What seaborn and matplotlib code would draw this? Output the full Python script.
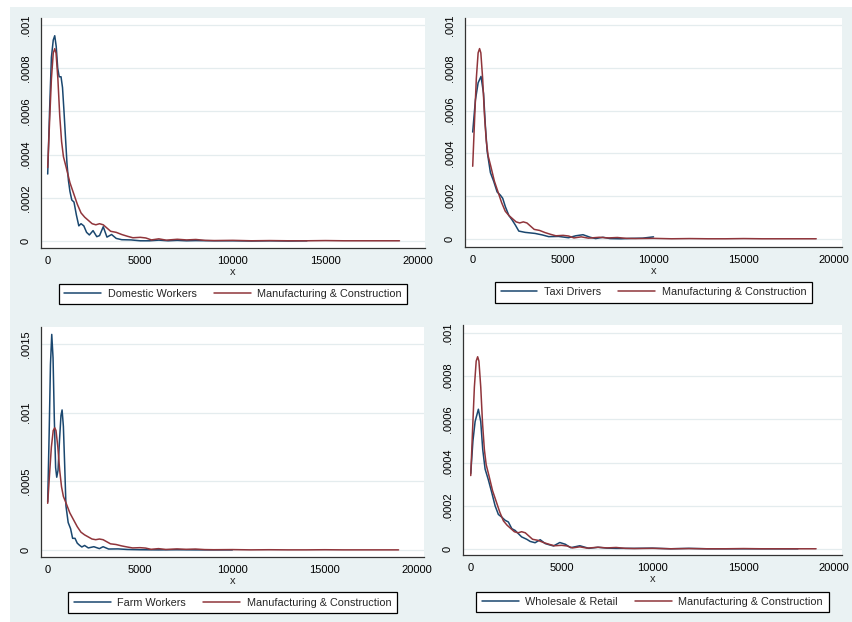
import numpy as np
import pandas as pd
import matplotlib.pyplot as plt
import seaborn as sns
from matplotlib.patches import Rectangle

# ---- data (kernel density estimates) ----
MFG = "Manufacturing & Construction"

mfg_x = [0, 100, 200, 300, 380, 450, 550, 650, 750, 850, 1000, 1200, 1400, 1600, 1800,
         2000, 2200, 2400, 2600, 2800, 3000, 3200, 3400, 3700, 4000, 4300, 4600, 5000,
         5300, 5600, 6000, 6400, 7000, 7500, 8000, 8500, 9000, 10000, 11000, 12000,
         13000, 14000, 15000, 16000, 17000, 18000, 19000]
mfg_y = [0.00034, 0.00055, 0.00075, 0.00087, 0.00089, 0.00087, 0.00075, 0.00058, 0.00046,
         0.00039, 0.00034, 0.00027, 0.00022, 0.00017, 0.00013, 0.00011, 0.000095, 0.00008,
         0.000075, 0.00008, 0.000075, 0.00006, 0.000045, 0.00004, 0.00003, 0.000022,
         0.000015, 0.000017, 0.000014, 0.000005, 0.00001, 0.000004, 0.000008, 0.000005,
         0.000007, 0.000003, 0.000002, 0.000003, 0.000001, 0.000002, 0.000001, 0.000001,
         0.000002, 0.000001, 0.000001, 0.000001, 0.000001]

domestic_x = [0, 100, 200, 300, 380, 460, 540, 620, 720, 800, 880, 960, 1040, 1120, 1200,
              1300, 1420, 1550, 1680, 1800, 1950, 2100, 2250, 2450, 2650, 2800, 3000, 3200,
              3450, 3700, 4000, 4500, 5000, 5500, 6000, 6500, 7000, 7500, 8000, 9000,
              10000, 11000, 12000, 13000, 14000]
domestic_y = [0.00031, 0.0006, 0.00085, 0.00093, 0.00095, 0.0009, 0.0008, 0.00076, 0.00076,
              0.00071, 0.0006, 0.00048, 0.00036, 0.00028, 0.00023, 0.00019, 0.00018, 0.00012,
              0.00007, 0.00008, 0.00007, 0.00004, 0.000028, 0.000048, 0.00002, 0.000025,
              0.000066, 0.000018, 0.00003, 0.000012, 0.000006, 0.000005, 0.000001, 0.000001,
              0.000004, 0.000001, 0.000003, 0.000001, 0.000002, 0.000001, 0.000001, 0.0,
              0.000001, 0.0, 0.000001]

taxi_x = [0, 150, 300, 460, 600, 700, 800, 980, 1160, 1350, 1530, 1660, 1810, 2000, 2180,
          2360, 2550, 2900, 3450, 3850, 4200, 4750, 5300, 5700, 6100, 6500, 6800, 7200,
          7600, 8200, 8800, 9400, 10000]
taxi_y = [0.0005, 0.00065, 0.00073, 0.00076, 0.00068, 0.00053, 0.00041, 0.00031, 0.00027,
          0.00022, 0.000205, 0.00019, 0.00015, 0.00011, 0.000089, 0.000065, 0.000037,
          0.000031, 0.000026, 0.000019, 0.000011, 0.000012, 0.000006, 0.000015, 0.00002,
          0.000008, 0.000002, 0.000008, 0.000002, 0.000001, 0.000003, 0.000004, 0.00001]

farm_x = [0, 80, 150, 220, 290, 360, 430, 490, 560, 640, 720, 780, 850, 920, 990, 1110,
          1240, 1350, 1480, 1600, 1720, 1850, 2000, 2200, 2500, 2800, 3000, 3300, 3800,
          4300, 5000, 6000, 7000, 8000, 9000, 10000]
farm_y = [0.00035, 0.00085, 0.00135, 0.00157, 0.0014, 0.00095, 0.0006, 0.00053, 0.00058,
          0.0008, 0.00098, 0.00102, 0.0009, 0.00062, 0.00032, 0.0002, 0.000155, 0.000085,
          0.000085, 0.00005, 0.000035, 0.000022, 0.000033, 0.000015, 0.000024, 0.00001,
          0.000024, 0.000007, 0.000008, 0.000004, 0.000002, 0.000001, 0.000002, 0.000001,
          0.000001, 0.000001]

retail_x = [0, 120, 240, 420, 550, 660, 790, 970, 1160, 1340, 1520, 1700, 1890, 2070, 2260,
            2440, 2620, 2800, 3080, 3270, 3540, 3820, 4100, 4300, 4550, 4900, 5200, 5500,
            6000, 6500, 7000, 7500, 8000, 9000, 10000, 11000, 12000, 13000, 14000, 15000,
            16000, 17000, 18000]
retail_y = [0.00035, 0.0005, 0.00059, 0.000647, 0.00059, 0.00046, 0.00037, 0.00032, 0.00026,
            0.0002, 0.00016, 0.000148, 0.000133, 0.000125, 0.000094, 0.000086, 0.000071,
            0.000056, 0.000045, 0.000035, 0.000029, 0.000043, 0.000025, 0.00002, 0.000014,
            0.00003, 0.000022, 0.000006, 0.000015, 0.000003, 0.000008, 0.000004, 0.000003,
            0.000003, 0.000004, 0.000001, 0.000003, 0.000001, 0.000001, 0.000001, 0.000001,
            0.000001, 0.000001]

x_ticks = [0, 5000, 10000, 15000, 20000]
y_ticks_small = [0, 0.0002, 0.0004, 0.0006, 0.0008, 0.001]
y_labels_small = ["0", ".0002", ".0004", ".0006", ".0008", ".001"]
y_ticks_farm = [0, 0.0005, 0.001, 0.0015]
y_labels_farm = ["0", ".0005", ".001", ".0015"]

NAVY = "#1A476F"
MAROON = "#90353B"
BG = "#EAF2F3"
GRID = "#E4ECEE"
FS = 8
LEG_FS = 7.8

sns.set_style("white")
plt.rcParams["font.family"] = ["Liberation Sans", "DejaVu Sans"]

W, H = 852, 622
fig = plt.figure(figsize=(W / 100, H / 100), dpi=100, facecolor="white")
fig.patches.append(Rectangle((10 / W, 0), (W - 10) / W, (H - 7) / H,
                             transform=fig.transFigure, facecolor=BG, edgecolor="none", zorder=-10))


def px_rect(left, top, right, bottom):
    return [left / W, 1 - bottom / H, (right - left) / W, (bottom - top) / H]


def draw_panel(rect, name, gx, gy, xlim, ylim, yticks, ylabels, legend_y):
    ax = fig.add_axes(rect)
    ax.set_facecolor("white")
    df = pd.concat([
        pd.DataFrame({"x": gx, "density": gy, "series": name}),
        pd.DataFrame({"x": mfg_x, "density": mfg_y, "series": MFG}),
    ])
    sns.lineplot(data=df, x="x", y="density", hue="series", hue_order=[name, MFG],
                 palette=[NAVY, MAROON], estimator=None, linewidth=1.1, legend=False, ax=ax)
    ax.set_xlim(*xlim)
    ax.set_ylim(*ylim)
    ax.set_xticks(x_ticks)
    ax.set_xticklabels([str(t) for t in x_ticks])
    ax.set_yticks(yticks)
    ax.set_yticklabels(ylabels, rotation=90, va="center")
    for y in yticks:
        ax.axhline(y, color=GRID, linewidth=0.9, zorder=0)
    ax.tick_params(axis="both", direction="out", length=4, width=0.8, color="#333333",
                   labelsize=FS, labelcolor="black")
    ax.tick_params(axis="y", pad=3.5)
    ax.tick_params(axis="x", pad=2)
    for side in ["top", "right"]:
        ax.spines[side].set_visible(False)
    for side in ["left", "bottom"]:
        ax.spines[side].set_color("#333333")
        ax.spines[side].set_linewidth(0.9)
    ax.set_xlabel("x", fontsize=FS, labelpad=0.5)
    ax.set_ylabel("")
    handles = ax.get_lines()[:2]
    leg = ax.legend(handles, [name, MFG], loc="center", bbox_to_anchor=(0.5, legend_y),
                    ncol=2, frameon=True, fancybox=False, framealpha=1, edgecolor="black",
                    fontsize=LEG_FS, handlelength=3.4, handletextpad=0.6, columnspacing=1.6,
                    borderpad=0.5)
    leg.get_frame().set_linewidth(0.9)
    return ax


draw_panel(px_rect(41, 18, 425, 248), "Domestic Workers", domestic_x, domestic_y,
           (-362, 20378), (-0.0000324, 0.001032), y_ticks_small, y_labels_small, -0.2)
draw_panel(px_rect(465, 18, 842, 247), "Taxi Drivers", taxi_x, taxi_y,
           (-426, 20426), (-0.0000374, 0.001033), y_ticks_small, y_labels_small, -0.197)
draw_panel(px_rect(41, 327, 424, 557), "Farm Workers", farm_x, farm_y,
           (-362, 20378), (-0.000051, 0.001624), y_ticks_farm, y_labels_farm, -0.198)
draw_panel(px_rect(463, 325, 842, 555), "Wholesale & Retail", retail_x, retail_y,
           (-426, 20426), (-0.0000278, 0.001037), y_ticks_small, y_labels_small, -0.204)

fig.savefig("out.png", dpi=100, facecolor="white")
